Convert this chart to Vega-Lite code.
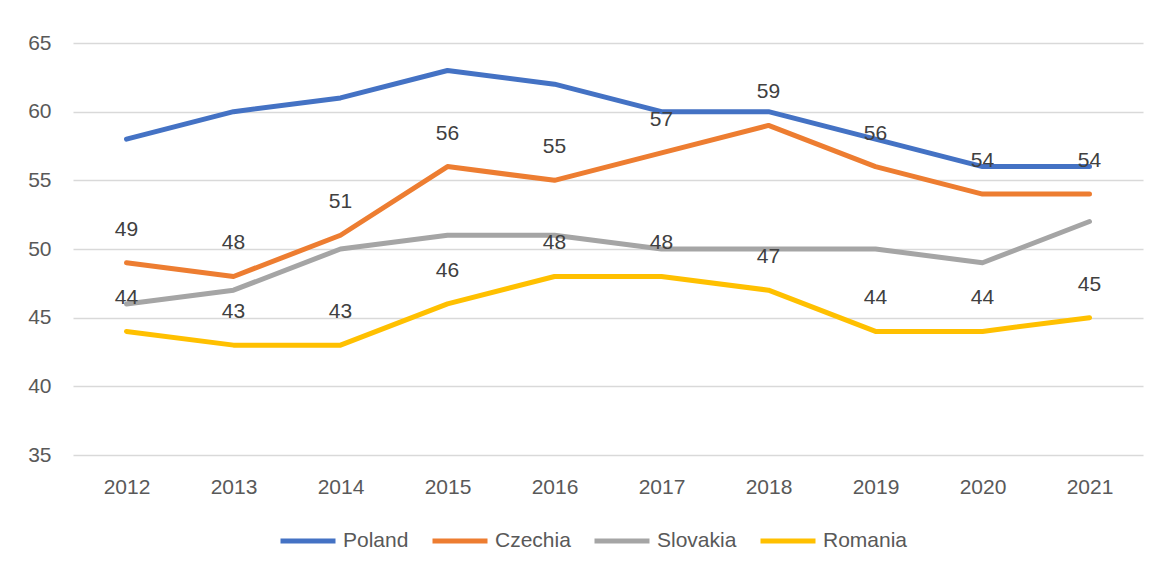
{
  "$schema": "https://vega.github.io/schema/vega-lite/v6.json",
  "width": 1070,
  "height": 412,
  "autosize": {"type": "none"},
  "padding": {"left": 73, "top": 43, "right": 17, "bottom": 117},
  "background": "white",
  "config": {
    "view": {"stroke": null},
    "font": "Liberation Sans",
    "axis": {
      "labelColor": "#595959",
      "labelFontSize": 21,
      "ticks": false,
      "domain": false,
      "title": null,
      "gridColor": "#D9D9D9",
      "gridWidth": 1.5
    },
    "legend": {"labelColor": "#595959"}
  },
  "data": {
    "values": [
      {"year": "2012", "country": "Poland", "value": 58},
      {"year": "2013", "country": "Poland", "value": 60},
      {"year": "2014", "country": "Poland", "value": 61},
      {"year": "2015", "country": "Poland", "value": 63},
      {"year": "2016", "country": "Poland", "value": 62},
      {"year": "2017", "country": "Poland", "value": 60},
      {"year": "2018", "country": "Poland", "value": 60},
      {"year": "2019", "country": "Poland", "value": 58},
      {"year": "2020", "country": "Poland", "value": 56},
      {"year": "2021", "country": "Poland", "value": 56},
      {"year": "2012", "country": "Czechia", "value": 49},
      {"year": "2013", "country": "Czechia", "value": 48},
      {"year": "2014", "country": "Czechia", "value": 51},
      {"year": "2015", "country": "Czechia", "value": 56},
      {"year": "2016", "country": "Czechia", "value": 55},
      {"year": "2017", "country": "Czechia", "value": 57},
      {"year": "2018", "country": "Czechia", "value": 59},
      {"year": "2019", "country": "Czechia", "value": 56},
      {"year": "2020", "country": "Czechia", "value": 54},
      {"year": "2021", "country": "Czechia", "value": 54},
      {"year": "2012", "country": "Slovakia", "value": 46},
      {"year": "2013", "country": "Slovakia", "value": 47},
      {"year": "2014", "country": "Slovakia", "value": 50},
      {"year": "2015", "country": "Slovakia", "value": 51},
      {"year": "2016", "country": "Slovakia", "value": 51},
      {"year": "2017", "country": "Slovakia", "value": 50},
      {"year": "2018", "country": "Slovakia", "value": 50},
      {"year": "2019", "country": "Slovakia", "value": 50},
      {"year": "2020", "country": "Slovakia", "value": 49},
      {"year": "2021", "country": "Slovakia", "value": 52},
      {"year": "2012", "country": "Romania", "value": 44},
      {"year": "2013", "country": "Romania", "value": 43},
      {"year": "2014", "country": "Romania", "value": 43},
      {"year": "2015", "country": "Romania", "value": 46},
      {"year": "2016", "country": "Romania", "value": 48},
      {"year": "2017", "country": "Romania", "value": 48},
      {"year": "2018", "country": "Romania", "value": 47},
      {"year": "2019", "country": "Romania", "value": 44},
      {"year": "2020", "country": "Romania", "value": 44},
      {"year": "2021", "country": "Romania", "value": 45}
    ]
  },
  "encoding": {
    "x": {
      "field": "year",
      "type": "ordinal",
      "scale": {"type": "point", "padding": 0.5},
      "axis": {"labelAngle": 0, "labelPadding": 21, "grid": false}
    },
    "y": {
      "field": "value",
      "type": "quantitative",
      "scale": {"domain": [35, 65], "nice": false, "zero": false},
      "axis": {"values": [35, 40, 45, 50, 55, 60, 65], "labelPadding": 22, "grid": true}
    }
  },
  "layer": [
    {
      "mark": {"type": "line", "strokeWidth": 5, "strokeCap": "round", "strokeJoin": "round"},
      "encoding": {
        "color": {
          "field": "country",
          "type": "nominal",
          "sort": ["Poland", "Czechia", "Slovakia", "Romania"],
          "scale": {
            "domain": ["Poland", "Czechia", "Slovakia", "Romania"],
            "range": ["#4472C4", "#ED7D31", "#A5A5A5", "#FFC000"]
          },
          "legend": {
            "orient": "none",
            "legendX": 205,
            "legendY": 468,
            "direction": "horizontal",
            "title": null,
            "symbolType": "stroke",
            "symbolSize": 3025,
            "symbolStrokeWidth": 5,
            "labelFontSize": 21,
            "labelOffset": 5,
            "columnPadding": 13
          }
        }
      }
    },
    {
      "transform": [{"filter": "datum.country === 'Czechia' || datum.country === 'Romania'"}],
      "mark": {"type": "text", "dy": -33, "fontSize": 21, "color": "#404040", "baseline": "middle"},
      "encoding": {"text": {"field": "value", "type": "quantitative"}}
    }
  ]
}
